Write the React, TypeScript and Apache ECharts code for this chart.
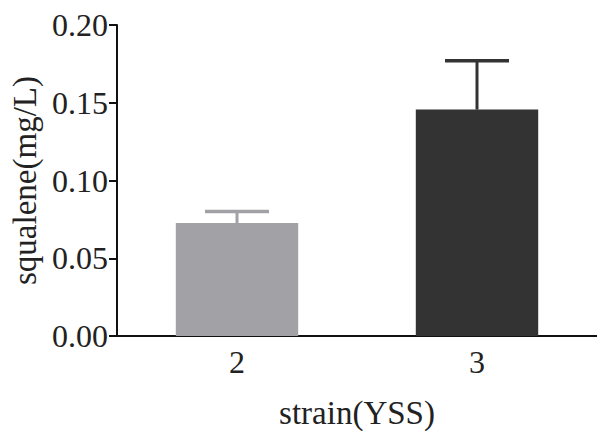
import React, { useEffect, useRef } from "react";
import * as echarts from "echarts";

const categories = ["2", "3"];
const means = [0.0727, 0.1456];
const errorTops = [0.080, 0.177];
const barColors = ["#a2a2a6", "#333333"];
const yTicks = { min: 0, max: 0.2, interval: 0.05 };

export default function App() {
  const ref = useRef<HTMLDivElement>(null);
  useEffect(() => {
    if (!ref.current) return;
    const chart = echarts.init(ref.current, null, { renderer: "svg" });
    const font = "Liberation Serif";
    chart.setOption({
      animation: false,
      backgroundColor: "#ffffff",
      grid: { left: 117, right: 0, top: 25, bottom: 91 },
      xAxis: {
        type: "category",
        data: categories,
        name: "strain(YSS)",
        nameLocation: "middle",
        nameGap: 60,
        nameTextStyle: { fontFamily: font, fontSize: 33, color: "#222" },
        axisLine: { lineStyle: { color: "#111", width: 2 } },
        axisTick: { alignWithLabel: true, length: 8, lineStyle: { color: "#111", width: 2 } },
        axisLabel: { fontFamily: font, fontSize: 32, color: "#222", margin: 10 },
      },
      yAxis: {
        type: "value",
        min: yTicks.min,
        max: yTicks.max,
        interval: yTicks.interval,
        name: "squalene(mg/L)",
        nameLocation: "middle",
        nameGap: 71,
        nameTextStyle: { fontFamily: font, fontSize: 33, color: "#222" },
        axisLine: { show: true, lineStyle: { color: "#111", width: 2 } },
        axisTick: { show: true, length: 8, lineStyle: { color: "#111", width: 2 } },
        axisLabel: {
          fontFamily: font,
          fontSize: 32,
          color: "#222",
          margin: 9,
          formatter: (v: number) => v.toFixed(2),
        },
        splitLine: { show: false },
      },
      series: [
        {
          type: "bar",
          barWidth: "51%",
          data: means.map((v, i) => ({ value: v, itemStyle: { color: barColors[i] } })),
          z: 2,
        },
        {
          type: "custom",
          z: 3,
          data: means.map((v, i) => [i, v, errorTops[i]]),
          renderItem: (params: any, api: any) => {
            const x = api.value(0);
            const base = api.coord([x, api.value(1)]);
            const top = api.coord([x, api.value(2)]);
            const half = 32;
            const color = barColors[params.dataIndex];
            return {
              type: "group",
              children: [
                {
                  type: "line",
                  shape: { x1: base[0], y1: base[1], x2: top[0], y2: top[1] },
                  style: { stroke: color, lineWidth: 3 },
                },
                {
                  type: "line",
                  shape: { x1: top[0] - half, y1: top[1], x2: top[0] + half, y2: top[1] },
                  style: { stroke: color, lineWidth: 3.5 },
                },
              ],
            };
          },
        },
      ],
    });
    return () => chart.dispose();
  }, []);
  return (
    <div style={{ position: "absolute", left: 0, top: 0, width: 597, height: 434 }}>
      <div ref={ref} style={{ width: 597, height: 434 }} />
    </div>
  );
}
